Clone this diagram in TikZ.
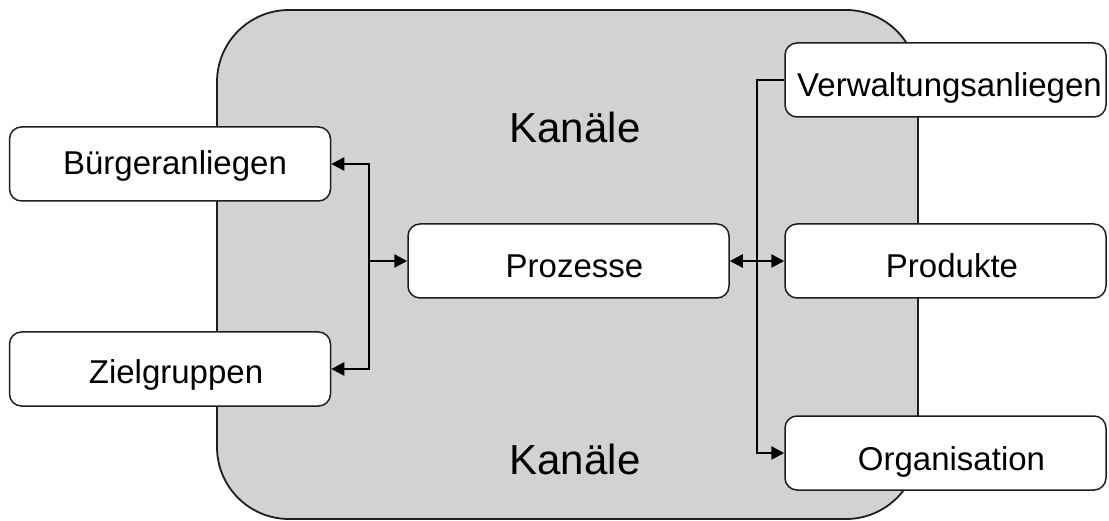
\documentclass[tikz,border=0pt]{standalone}
\usepackage{fontspec}
\setmainfont{Liberation Sans}
\usetikzlibrary{arrows.meta}
\definecolor{bggray}{RGB}{210,210,210}
\definecolor{edgegray}{RGB}{30,30,30}
\begin{document}
\begin{tikzpicture}[x=1pt,y=-1pt,
  box/.style={draw=edgegray,line width=1.5pt,fill=white,rounded corners=12pt,
    minimum width=321pt,minimum height=74pt,inner sep=0pt,
    font=\fontsize{33}{40}\selectfont,text height=36pt,text depth=2pt},
  kanal/.style={font=\fontsize{42}{50}\selectfont,anchor=base,inner sep=0pt},
  conn/.style={line width=2.5pt,black},
  arr/.style={conn,-{Triangle[length=13pt,width=13pt]}}]
\useasboundingbox (0,0) rectangle (1109,521);
\path[draw=edgegray,line width=1.8pt,fill=bggray,rounded corners=72pt] (217,10) rectangle (918,519);
\node[kanal] (k1) at (575,143) {Kanäle};
\node[kanal] (k2) at (575,474) {Kanäle};
\node[box,text height=24pt] (buerger) at (170,164) {\hspace*{10pt}Bürgeranliegen};
\node[box,text height=32pt] (ziel) at (170,369) {\hspace*{12pt}Zielgruppen};
\node[box] (proz) at (568.5,261) {\hspace*{12pt}Prozesse};
\node[box] (verw) at (945.5,80) {\hspace*{8pt}Verwaltungsanliegen};
\node[box] (prod) at (945.5,261) {\hspace*{13pt}Produkte};
\node[box] (org) at (945.5,453) {\hspace*{12pt}Organisation};
\coordinate (lj) at (369,261);
\coordinate (rj) at (757,261);
\draw[arr] (lj) -- (proz.west);
\draw[arr] (lj) |- (buerger.east);
\draw[arr] (lj) |- (ziel.east);
\draw[arr] (rj) -- (proz.east);
\draw[arr] (rj) -- (prod.west);
\draw[conn] (rj) |- (verw.west);
\draw[arr] (rj) |- (org.west);
\end{tikzpicture}
\end{document}
